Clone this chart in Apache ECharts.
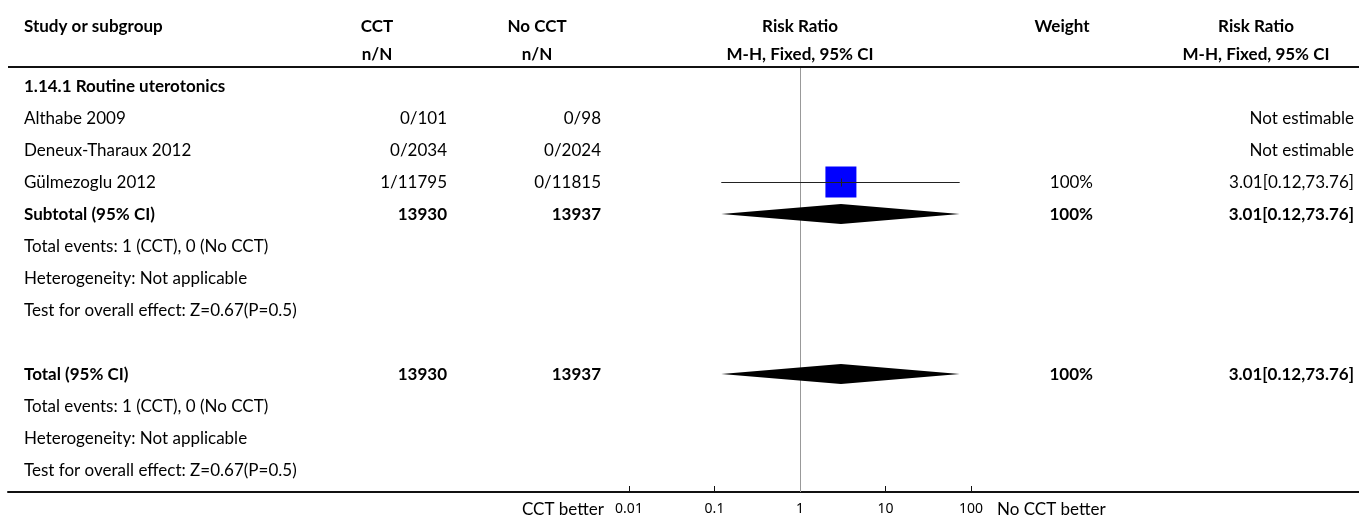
<!DOCTYPE html>
<html><head><meta charset="utf-8">
<script src="https://cdn.jsdelivr.net/npm/echarts@6/dist/echarts.min.js"></script>
<style>html,body{margin:0;padding:0;background:#fff}#c{width:1359px;height:516px}</style>
</head><body><div id="c"></div>
<script>
// ---------- data ----------
const studies = ['Althabe 2009', 'Deneux-Tharaux 2012', 'Gülmezoglu 2012'];
const cctEvents = [0, 0, 1];
const cctTotals = [101, 2034, 11795];
const noEvents = [0, 0, 0];
const noTotals = [98, 2024, 11815];
const studyRR = [null, null, 3.01];
const studyLo = [null, null, 0.12];
const studyHi = [null, null, 73.76];
const studyWeight = [null, null, 100];
const subgroupName = '1.14.1 Routine uterotonics';
const subtotalN = [13930, 13937];
const subtotalRR = [3.01, 0.12, 73.76];
const subtotalWeight = 100;
const totalN = [13930, 13937];
const totalRR = [3.01, 0.12, 73.76];
const totalWeight = 100;
const totalEventsText = 'Total events: 1 (CCT), 0 (No CCT)';
const heterogeneityText = 'Heterogeneity: Not applicable';
const overallEffectText = 'Test for overall effect: Z=0.67(P=0.5)';
const headers1 = ['Study or subgroup', 'CCT', 'No CCT', 'Risk Ratio', 'Weight', 'Risk Ratio'];
const headers2 = ['n/N', 'n/N', 'M-H, Fixed, 95% CI', 'M-H, Fixed, 95% CI'];
const axisTickValues = [0.01, 0.1, 1, 10, 100];
const leftLabel = 'CCT better';
const rightLabel = 'No CCT better';

// ---------- layout ----------
const FONT = 'Lato';
const FS = 17;
const L = {
  textLeft: 24, cctHdr: 377, cctVal: 447, noHdr: 537, noVal: 601, rrHdr: 800,
  wHdr: 1062, wVal: 1093, rr2Hdr: 1256, rr2Val: 1354,
  leftLabelRight: 604, rightLabelLeft: 997, lineLeft: 8, lineRight: 1359
};
const ROW_HDR1 = -1.88, ROW_HDR2 = -1.0, ROW_LINE = -0.59, ROW_AXIS = 12.6875, ROW_AXLBL = 13.2;

const fmtRR = a => a[0].toFixed(2) + '[' + a[1].toFixed(2) + ',' + a[2].toFixed(2) + ']';

const cells = [];
function cell(x, row, text, align, bold, size) {
  cells.push({ x, row, text, align, bold: !!bold, size: size || FS });
}
// headers
cell(L.textLeft, ROW_HDR1, headers1[0], 'left', true);
cell(L.cctHdr, ROW_HDR1, headers1[1], 'center', true);
cell(L.noHdr, ROW_HDR1, headers1[2], 'center', true);
cell(L.rrHdr, ROW_HDR1, headers1[3], 'center', true);
cell(L.wHdr, ROW_HDR1, headers1[4], 'center', true);
cell(L.rr2Hdr, ROW_HDR1, headers1[5], 'center', true);
cell(L.cctHdr, ROW_HDR2, headers2[0], 'center', true);
cell(L.noHdr, ROW_HDR2, headers2[1], 'center', true);
cell(L.rrHdr, ROW_HDR2, headers2[2], 'center', true);
cell(L.rr2Hdr, ROW_HDR2, headers2[3], 'center', true);
// subgroup
cell(L.textLeft, 0, subgroupName, 'left', true);
studies.forEach((s, i) => {
  const r = 1 + i;
  cell(L.textLeft, r, s, 'left');
  cell(L.cctVal, r, cctEvents[i] + '/' + cctTotals[i], 'right');
  cell(L.noVal, r, noEvents[i] + '/' + noTotals[i], 'right');
  if (studyRR[i] == null) {
    cell(L.rr2Val, r, 'Not estimable', 'right');
  } else {
    cell(L.wVal, r, studyWeight[i] + '%', 'right');
    cell(L.rr2Val, r, fmtRR([studyRR[i], studyLo[i], studyHi[i]]), 'right');
  }
});
const ROW_SUB = 4;
cell(L.textLeft, ROW_SUB, 'Subtotal (95% CI)', 'left', true);
cell(L.cctVal, ROW_SUB, String(subtotalN[0]), 'right', true);
cell(L.noVal, ROW_SUB, String(subtotalN[1]), 'right', true);
cell(L.wVal, ROW_SUB, subtotalWeight + '%', 'right', true);
cell(L.rr2Val, ROW_SUB, fmtRR(subtotalRR), 'right', true);
cell(L.textLeft, 5, totalEventsText, 'left');
cell(L.textLeft, 6, heterogeneityText, 'left');
cell(L.textLeft, 7, overallEffectText, 'left');
const ROW_TOT = 9;
cell(L.textLeft, ROW_TOT, 'Total (95% CI)', 'left', true);
cell(L.cctVal, ROW_TOT, String(totalN[0]), 'right', true);
cell(L.noVal, ROW_TOT, String(totalN[1]), 'right', true);
cell(L.wVal, ROW_TOT, totalWeight + '%', 'right', true);
cell(L.rr2Val, ROW_TOT, fmtRR(totalRR), 'right', true);
cell(L.textLeft, 10, totalEventsText, 'left');
cell(L.textLeft, 11, heterogeneityText, 'left');
cell(L.textLeft, 12, overallEffectText, 'left');
cell(L.leftLabelRight, ROW_AXLBL, leftLabel, 'right');
cell(L.rightLabelLeft, ROW_AXLBL, rightLabel, 'left');

// forest marks
const studyMarks = [];
studies.forEach((s, i) => {
  if (studyRR[i] != null) studyMarks.push([studyRR[i], studyLo[i], studyHi[i], 1 + i, studyWeight[i]]);
});
const diamonds = [
  [subtotalRR[0], subtotalRR[1], subtotalRR[2], ROW_SUB],
  [totalRR[0], totalRR[1], totalRR[2], ROW_TOT]
];

const yCommon = { type: 'value', inverse: true, min: -2.5, max: ROW_AXIS, show: false };
const chart = echarts.init(document.getElementById('c'), null, { renderer: 'canvas' });
chart.setOption({
  animation: false,
  backgroundColor: '#fff',
  grid: [
    { left: L.lineLeft, right: 0, top: 6, height: 486 },
    { left: 629, width: 342, top: 6, height: 486 }
  ],
  xAxis: [
    { gridIndex: 0, type: 'value', min: L.lineLeft, max: L.lineRight, position: 'bottom',
      axisLine: { show: true, onZero: false, lineStyle: { color: '#111', width: 2 } },
      axisTick: { show: false }, axisLabel: { show: false }, splitLine: { show: false } },
    { gridIndex: 1, type: 'log', logBase: 10, min: axisTickValues[0], max: axisTickValues[axisTickValues.length - 1],
      position: 'bottom',
      axisLine: { show: true, onZero: false, lineStyle: { color: '#111', width: 2 } },
      axisTick: { show: true, inside: true, length: 6, lineStyle: { color: '#111', width: 1 } },
      axisLabel: { show: true, color: '#000', fontSize: 14, fontFamily: 'Noto Sans', margin: 10,
        formatter: v => (v >= 1 ? String(Math.round(v)) : String(+(+v).toFixed(2))) },
      splitLine: { show: false } }
  ],
  yAxis: [Object.assign({ gridIndex: 0 }, yCommon), Object.assign({ gridIndex: 1 }, yCommon)],
  series: [
    { type: 'line', xAxisIndex: 0, yAxisIndex: 0, symbol: 'none', silent: true,
      lineStyle: { color: '#111', width: 2 },
      data: [[L.lineLeft, ROW_LINE], [L.lineRight, ROW_LINE]] },
    { type: 'custom', xAxisIndex: 1, yAxisIndex: 1, z: 1, silent: true,
      data: [[1, ROW_LINE, ROW_AXIS]],
      renderItem: (params, api) => {
        const a = api.coord([api.value(0), api.value(1)]);
        const b = api.coord([api.value(0), api.value(2)]);
        const x = Math.round(a[0]) + 0.5;
        return { type: 'line', shape: { x1: x, y1: a[1], x2: x, y2: b[1] }, style: { stroke: '#999', lineWidth: 1 } };
      } },
    { type: 'custom', xAxisIndex: 1, yAxisIndex: 1, z: 3, data: studyMarks,
      renderItem: (params, api) => {
        const row = api.value(3);
        const c = api.coord([api.value(0), row]);
        const lo = api.coord([api.value(1), row]);
        const hi = api.coord([api.value(2), row]);
        const s = 31 * Math.sqrt(api.value(4) / 100);
        const y = Math.round(c[1]) + 0.5;
        const xc = Math.round(c[0]) + 0.5;
        return { type: 'group', children: [
          { type: 'rect', shape: { x: c[0] - s / 2, y: c[1] - s / 2, width: s, height: s }, style: { fill: '#0000ff' } },
          { type: 'line', shape: { x1: lo[0], y1: y, x2: hi[0], y2: y }, style: { stroke: '#222', lineWidth: 1 } },
          { type: 'line', shape: { x1: xc, y1: y - 4, x2: xc, y2: y + 4 }, style: { stroke: '#222', lineWidth: 1 } }
        ] };
      } },
    { type: 'custom', xAxisIndex: 1, yAxisIndex: 1, z: 3, data: diamonds,
      renderItem: (params, api) => {
        const row = api.value(3);
        const c = api.coord([api.value(0), row]);
        const lo = api.coord([api.value(1), row]);
        const hi = api.coord([api.value(2), row]);
        return { type: 'polygon', shape: { points: [[lo[0], c[1]], [c[0], c[1] - 10], [hi[0], c[1]], [c[0], c[1] + 10]] },
          style: { fill: '#000' } };
      } },
    { type: 'custom', xAxisIndex: 0, yAxisIndex: 0, z: 4, silent: true,
      data: cells.map(c => [c.x, c.row]),
      renderItem: (params, api) => {
        const c = cells[params.dataIndex];
        const p = api.coord([c.x, c.row]);
        return { type: 'text', x: p[0], y: p[1] + 1, style: {
          text: c.text, textAlign: c.align, textVerticalAlign: 'middle', align: c.align, verticalAlign: 'middle',
          font: (c.bold ? 'bold ' : '') + c.size + 'px ' + FONT, fill: '#000' } };
      } }
  ]
});
</script>
</body></html>
